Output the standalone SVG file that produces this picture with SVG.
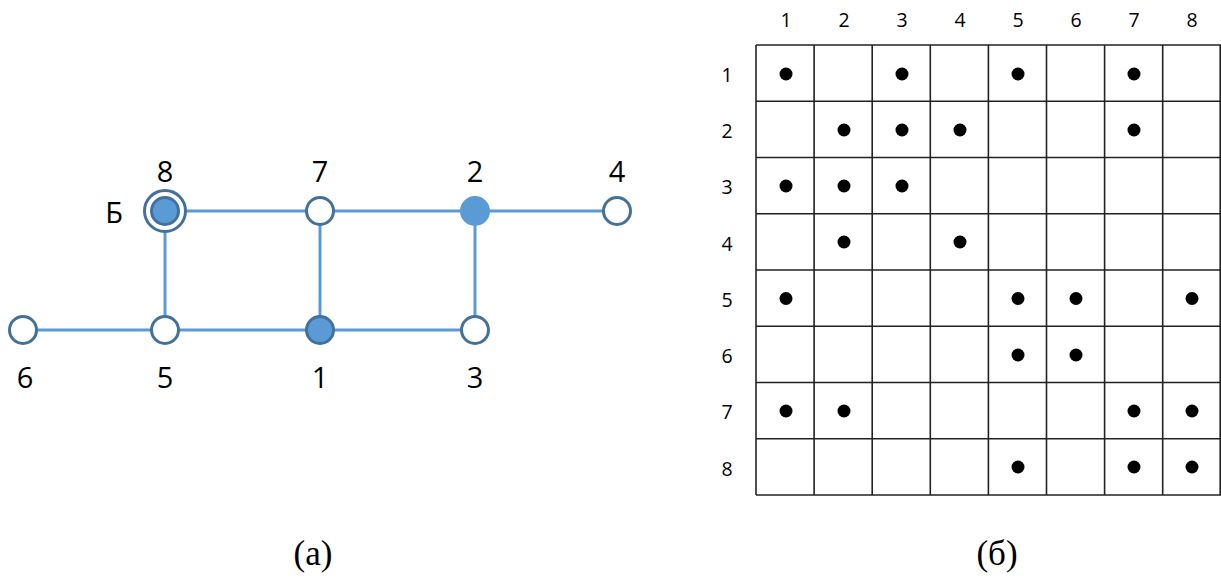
<svg xmlns="http://www.w3.org/2000/svg" width="1221" height="578" viewBox="0 0 1221 578">
<style>
.edge{stroke:#5B9BD5;stroke-width:3;fill:none}
.node{stroke:#41719C;stroke-width:3;fill:#fff}
.filled{fill:#5B9BD5}
.lbl{font-family:"Open Sans","Liberation Sans",Arial,sans-serif;font-size:29px;fill:#000;text-anchor:middle}
.cap{font-family:"Liberation Serif","Times New Roman",serif;font-size:35px;fill:#000;text-anchor:middle}
.gl{font-family:"Open Sans","Liberation Sans",Arial,sans-serif;font-size:19.5px;fill:#000;text-anchor:middle}
.grid{stroke:#222;stroke-width:1.6;fill:none}
.dot{fill:#000}
</style>
<rect width="1221" height="578" fill="#fff"/>
<g id="connectors">
<line class="edge" x1="165" y1="211" x2="320" y2="211"/>
<line class="edge" x1="320" y1="211" x2="475" y2="211"/>
<line class="edge" x1="475" y1="211" x2="617" y2="211"/>
<line class="edge" x1="165" y1="211" x2="165" y2="330"/>
<line class="edge" x1="320" y1="211" x2="320" y2="330"/>
<line class="edge" x1="475" y1="211" x2="475" y2="330"/>
<line class="edge" x1="23" y1="330" x2="165" y2="330"/>
<line class="edge" x1="165" y1="330" x2="320" y2="330"/>
<line class="edge" x1="320" y1="330" x2="475" y2="330"/>
</g>
<g id="node8"><circle class="node" cx="165" cy="211" r="20.5"/><circle class="node filled" cx="165" cy="211" r="13.5"/><text class="lbl" x="165" y="182">8</text><text class="lbl" x="114" y="223">Б</text></g>
<g id="node7"><circle class="node" cx="320" cy="211" r="13.5"/><text class="lbl" x="320" y="182">7</text></g>
<g id="node2"><circle class="node filled" cx="475" cy="211" r="13.5" style="stroke:#5B9BD5"/><text class="lbl" x="475" y="182">2</text></g>
<g id="node4"><circle class="node" cx="617" cy="211" r="13.5"/><text class="lbl" x="617" y="182">4</text></g>
<g id="node6"><circle class="node" cx="23" cy="330" r="13.5"/><text class="lbl" x="25" y="388">6</text></g>
<g id="node5"><circle class="node" cx="165" cy="330" r="13.5"/><text class="lbl" x="165" y="388">5</text></g>
<g id="node1"><circle class="node filled" cx="320" cy="330" r="13.5"/><text class="lbl" x="320" y="388">1</text></g>
<g id="node3"><circle class="node" cx="475" cy="330" r="13.5"/><text class="lbl" x="475" y="388">3</text></g>
<text class="cap" x="313" y="565">(а)</text>
<g id="matrix">
<g class="grid">
<line x1="756" y1="45" x2="1221" y2="45"/><line x1="756" y1="101.25" x2="1221" y2="101.25"/><line x1="756" y1="157.5" x2="1221" y2="157.5"/><line x1="756" y1="213.75" x2="1221" y2="213.75"/><line x1="756" y1="270" x2="1221" y2="270"/><line x1="756" y1="326.25" x2="1221" y2="326.25"/><line x1="756" y1="382.5" x2="1221" y2="382.5"/><line x1="756" y1="438.75" x2="1221" y2="438.75"/><line x1="756" y1="495" x2="1221" y2="495"/>
<line x1="756" y1="45" x2="756" y2="495"/><line x1="814.1" y1="45" x2="814.1" y2="495"/><line x1="872.2" y1="45" x2="872.2" y2="495"/><line x1="930.3" y1="45" x2="930.3" y2="495"/><line x1="988.4" y1="45" x2="988.4" y2="495"/><line x1="1046.5" y1="45" x2="1046.5" y2="495"/><line x1="1104.6" y1="45" x2="1104.6" y2="495"/><line x1="1162.7" y1="45" x2="1162.7" y2="495"/><line x1="1220.2" y1="45" x2="1220.2" y2="495"/>
</g>
<g class="gl">
<text x="786" y="27">1</text><text x="844" y="27">2</text><text x="902" y="27">3</text><text x="960" y="27">4</text><text x="1018" y="27">5</text><text x="1076" y="27">6</text><text x="1134" y="27">7</text><text x="1192" y="27">8</text>
<text x="727" y="81.5">1</text><text x="727" y="138">2</text><text x="727" y="194">3</text><text x="727" y="250.5">4</text><text x="727" y="306.5">5</text><text x="727" y="363">6</text><text x="727" y="419">7</text><text x="727" y="475.5">8</text>
</g>
<g class="dot">
<circle cx="786" cy="74" r="6.5"/><circle cx="902" cy="74" r="6.5"/><circle cx="1018" cy="74" r="6.5"/><circle cx="1134" cy="74" r="6.5"/>
<circle cx="844" cy="130" r="6.5"/><circle cx="902" cy="130" r="6.5"/><circle cx="960" cy="130" r="6.5"/><circle cx="1134" cy="130" r="6.5"/>
<circle cx="786" cy="186" r="6.5"/><circle cx="844" cy="186" r="6.5"/><circle cx="902" cy="186" r="6.5"/>
<circle cx="844" cy="242" r="6.5"/><circle cx="960" cy="242" r="6.5"/>
<circle cx="786" cy="298.5" r="6.5"/><circle cx="1018" cy="298.5" r="6.5"/><circle cx="1076" cy="298.5" r="6.5"/><circle cx="1192" cy="298.5" r="6.5"/>
<circle cx="1018" cy="355" r="6.5"/><circle cx="1076" cy="355" r="6.5"/>
<circle cx="786" cy="411" r="6.5"/><circle cx="844" cy="411" r="6.5"/><circle cx="1134" cy="411" r="6.5"/><circle cx="1192" cy="411" r="6.5"/>
<circle cx="1018" cy="467" r="6.5"/><circle cx="1134" cy="467" r="6.5"/><circle cx="1192" cy="467" r="6.5"/>
</g>
</g>
<text class="cap" x="997" y="565">(б)</text>
</svg>
